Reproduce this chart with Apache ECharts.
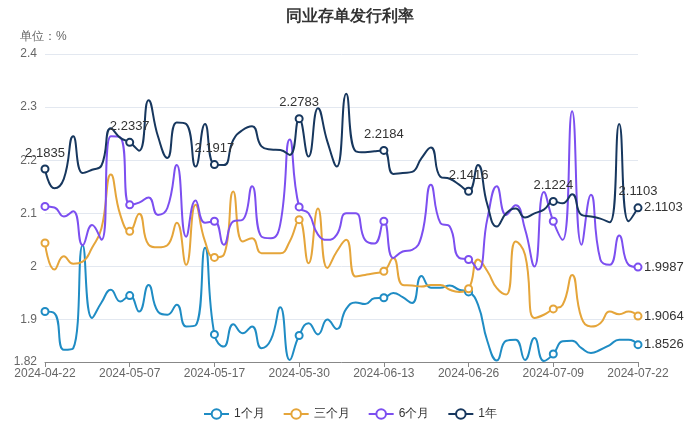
<!DOCTYPE html>
<html>
<head>
<meta charset="utf-8">
<script src="https://cdn.jsdelivr.net/npm/echarts@6/dist/echarts.min.js"></script>
<style>html,body{margin:0;padding:0;background:#fff}#c{width:700px;height:446px}</style>
</head>
<body>
<div id="c"></div>
<script>
const dates = ['2024-04-22','2024-04-23','2024-04-24','2024-04-25','2024-04-26','2024-04-28','2024-04-29','2024-04-30','2024-05-06','2024-05-07',
'2024-05-08','2024-05-09','2024-05-10','2024-05-11','2024-05-13','2024-05-14','2024-05-15','2024-05-16','2024-05-17','2024-05-20',
'2024-05-21','2024-05-22','2024-05-23','2024-05-24','2024-05-27','2024-05-28','2024-05-29','2024-05-30','2024-05-31','2024-06-03',
'2024-06-04','2024-06-05','2024-06-06','2024-06-07','2024-06-11','2024-06-12','2024-06-13','2024-06-14','2024-06-17','2024-06-18',
'2024-06-19','2024-06-20','2024-06-21','2024-06-24','2024-06-25','2024-06-26','2024-06-27','2024-06-28','2024-07-01','2024-07-02',
'2024-07-03','2024-07-04','2024-07-05','2024-07-08','2024-07-09','2024-07-10','2024-07-11','2024-07-12','2024-07-15','2024-07-16',
'2024-07-17','2024-07-18','2024-07-19','2024-07-22'];

const m1 = [1.915,1.912,1.843,1.846,2.040,1.903,1.932,1.956,1.934,1.945,
1.915,1.965,1.915,1.909,1.928,1.887,1.889,2.035,1.872,1.849,
1.891,1.874,1.887,1.846,1.862,1.923,1.824,1.870,1.893,1.872,
1.900,1.882,1.920,1.932,1.929,1.940,1.941,1.950,1.942,1.931,
1.982,1.960,1.960,1.964,1.956,1.952,1.928,1.859,1.823,1.860,
1.862,1.824,1.865,1.822,1.835,1.859,1.860,1.846,1.837,1.843,
1.852,1.862,1.862,1.8526];

const m3 = [2.044,1.994,2.019,2.005,2.009,2.035,2.072,2.173,2.097,2.066,
2.099,2.041,2.036,2.040,2.082,2.003,2.116,2.047,2.017,2.022,
2.141,2.047,2.053,2.025,2.025,2.025,2.047,2.088,2.006,2.109,
1.997,2.028,2.050,1.981,1.984,1.987,1.991,2.016,1.965,1.964,
1.962,1.965,1.965,1.956,1.952,1.958,2.013,1.991,1.959,1.947,
2.047,2.022,1.903,1.909,1.920,1.928,1.984,1.903,1.887,1.893,
1.915,1.910,1.915,1.9064];

const m6 = [2.113,2.111,2.094,2.104,2.040,2.078,2.050,2.245,2.243,2.116,
2.120,2.130,2.097,2.110,2.191,2.056,2.124,2.082,2.085,2.041,
2.085,2.088,2.151,2.056,2.053,2.080,2.239,2.112,2.100,2.060,
2.050,2.060,2.100,2.100,2.050,2.043,2.085,2.016,2.028,2.031,
2.057,2.154,2.082,2.075,2.016,2.013,1.994,2.090,2.151,2.097,
2.115,2.070,2.000,2.140,2.085,2.050,2.292,2.041,2.135,2.013,
2.003,2.058,2.003,1.9987];

const y1 = [2.1835,2.147,2.165,2.245,2.176,2.182,2.190,2.260,2.242,2.2337,
2.218,2.313,2.245,2.204,2.271,2.268,2.188,2.268,2.1917,2.191,
2.238,2.257,2.264,2.226,2.220,2.219,2.210,2.2783,2.207,2.298,
2.235,2.188,2.325,2.217,2.215,2.217,2.2184,2.174,2.176,2.178,
2.204,2.224,2.169,2.165,2.154,2.1416,2.191,2.116,2.075,2.100,
2.109,2.092,2.100,2.107,2.1224,2.119,2.136,2.097,2.094,2.090,
2.083,2.268,2.085,2.1103];

const names = ['1个月','三个月','6个月','1年'];
const colors = ['#1f8cc4','#e5a53a','#7c4ff0','#17375e'];
const yMin = 1.82, yMax = 2.4;
const labelStep = 9;

const chart = echarts.init(document.getElementById('c'), null, {renderer:'canvas'});
function mk(name, data, color, withLabel) {
  return {
    name: name, type: 'line', data: data, smooth: true,
    symbol: 'emptyCircle', symbolSize: 7, showSymbol: true, showAllSymbol: 'auto',
    lineStyle: {width: 2, color: color}, itemStyle: {color: color, borderWidth: 1.5},
    label: withLabel ? {show: true, position: 'top', color: '#333', fontSize: 13} : {show: false},
    endLabel: {show: true, color: '#333', fontSize: 13, distance: 6, formatter: p => String(p.value)},
    emphasis: {disabled: true}
  };
}
chart.setOption({
  animation: false,
  color: colors,
  title: [
    {text: '同业存单发行利率', left: 'center', top: 4, textStyle: {fontSize: 16, fontWeight: 'bold', color: '#333'}},
    {text: '单位：%', left: 15, top: 26, textStyle: {fontSize: 12, fontWeight: 'normal', color: '#666'}}
  ],
  grid: {left: 45, right: 62, top: 54, bottom: 84, outerBoundsMode: 'none'},
  legend: {bottom: 21, itemGap: 18, itemWidth: 25, itemHeight: 12, textStyle: {color: '#333', fontSize: 12}, data: names},
  xAxis: {
    type: 'category', boundaryGap: false, data: dates,
    axisLine: {lineStyle: {color: '#888'}},
    axisTick: {interval: labelStep - 1, lineStyle: {color: '#888'}},
    axisLabel: {interval: labelStep - 1, color: '#666', fontSize: 12, margin: 6}
  },
  yAxis: {
    type: 'value', min: yMin, max: yMax,
    axisLabel: {color: '#666', fontSize: 12},
    splitLine: {lineStyle: {color: '#e3e8f0'}}
  },
  series: [mk(names[0], m1, colors[0], false), mk(names[1], m3, colors[1], false), mk(names[2], m6, colors[2], false), mk(names[3], y1, colors[3], true)]
});
</script>
</body>
</html>
